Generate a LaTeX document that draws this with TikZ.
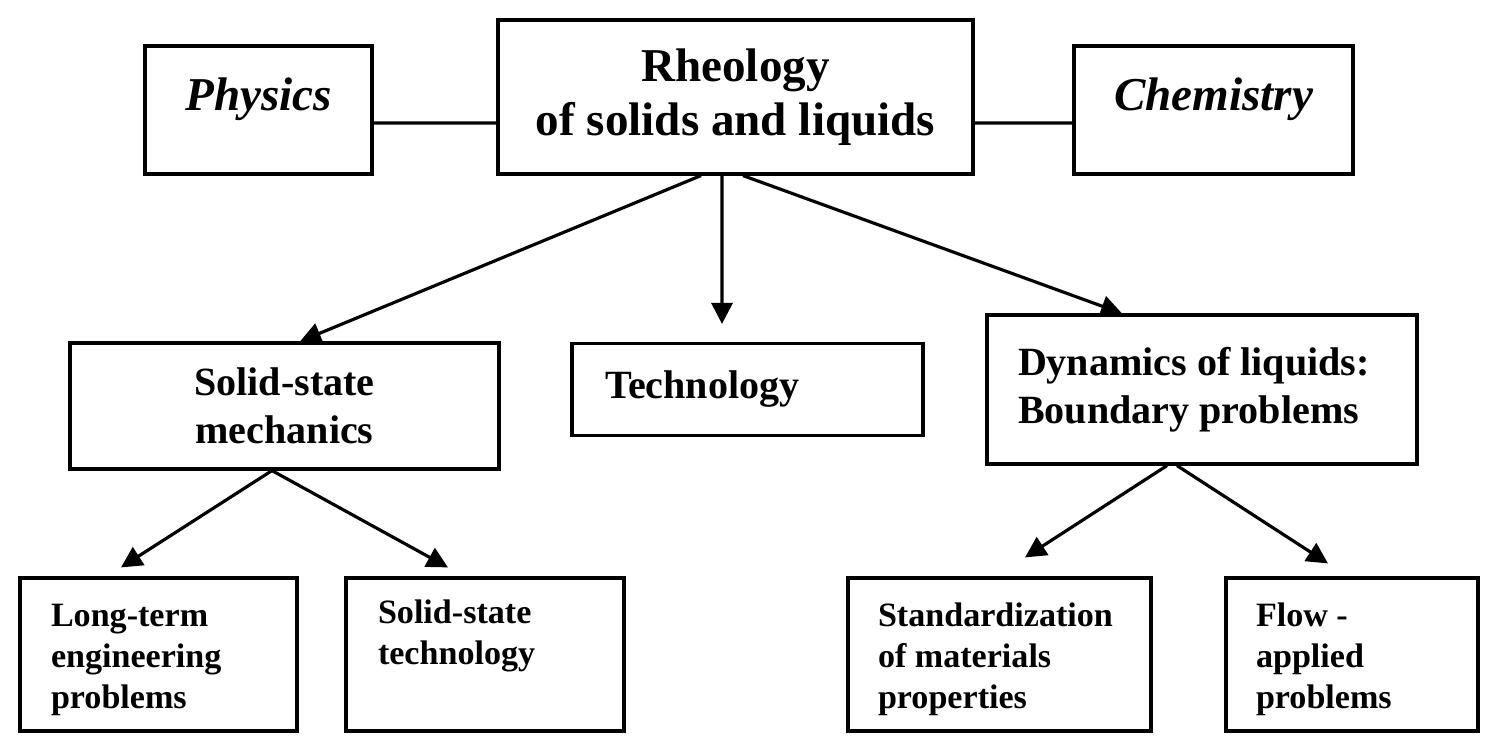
\documentclass[tikz,border=0pt]{standalone}
\usepackage{fontspec}
\setmainfont{Liberation Serif}
\usetikzlibrary{arrows.meta}
\tikzset{
  every picture/.style={line width=0.9pt},
  box/.style={draw, inner sep=0pt, align=center},
  head/.style={font=\fontsize{13.4}{15.5}\selectfont\bfseries},
  mid/.style={font=\fontsize{11.4}{13.8}\selectfont\bfseries},
  leaf/.style={font=\fontsize{9.7}{11.7}\selectfont\bfseries, align=flush left, text height=.33cm, minimum height=1.53cm},
  arrow/.style={-{Triangle[length=2.1mm, width=2.1mm]}},
}

\begin{document}
\begin{tikzpicture}
  \useasboundingbox (0,0) rectangle (15,-7.53);
  % top row
  \node[box, head, minimum width=2.27cm, minimum height=1.28cm, text height=.35cm, text depth=.35cm] (phys) at (2.585,-1.10) {\itshape Physics};
  \node[box, head, minimum width=4.75cm, minimum height=1.54cm] (rheo) at (7.355,-0.97) {Rheology\\of solids and liquids};
  \node[box, head, minimum width=2.79cm, minimum height=1.28cm, text height=.35cm, text depth=.35cm] (chem) at (12.135,-1.10) {\itshape Chemistry};
  \draw ([yshift=-1.3mm]phys.east) -- ([yshift=-2.6mm]rheo.west);
  \draw ([yshift=-2.6mm]rheo.east) -- ([yshift=-1.3mm]chem.west);
  % middle row
  \node[box, mid, minimum width=4.29cm, minimum height=1.26cm] (solid) at (2.845,-4.06) {Solid-state\\mechanics};
  \node[box, mid, align=flush left, text width=2.85cm, minimum width=3.51cm, minimum height=.92cm] (tech) at (7.475,-3.895) {Technology};
  \node[box, mid, align=flush left, text width=3.68cm, minimum width=4.30cm, minimum height=1.49cm] (dyn) at (12.02,-3.895) {Dynamics of liquids:\\Boundary problems};
  \draw[arrow] ([xshift=-3.45mm]rheo.south) -- ([xshift=1.55mm]solid.north);
  \draw[arrow] ([xshift=-1.35mm]rheo.south) -- ([xshift=-2.55mm, yshift=1.8mm]tech.north);
  \draw[arrow] ([xshift=0.75mm]rheo.south) -- ([xshift=-8mm]dyn.north);
  % bottom row
  \node[box, leaf, text width=2.15cm, minimum width=2.77cm] (long) at (1.585,-6.545) {Long-term\\engineering\\problems};
  \node[box, leaf, text width=2.14cm, minimum width=2.78cm] (sst) at (4.85,-6.545) {Solid-state\\technology\\\strut};
  \node[box, leaf, text width=2.43cm, minimum width=3.03cm] (std) at (9.995,-6.545) {Standardization\\of materials\\properties};
  \node[box, leaf, text width=1.92cm, minimum width=2.52cm] (flow) at (13.52,-6.545) {Flow -\\applied\\problems};
  \draw[arrow] ([xshift=-1.25mm]solid.south) -- ([xshift=-3.75mm, yshift=0.9mm]long.north);
  \draw[arrow] ([xshift=-1.25mm]solid.south) -- ([xshift=-3.7mm, yshift=0.9mm]sst.north);
  \draw[arrow] ([xshift=-3.5mm]dyn.south) -- ([xshift=2.55mm, yshift=1.9mm]std.north);
  \draw[arrow] ([xshift=-2.5mm]dyn.south) -- ([xshift=-2.4mm, yshift=1.3mm]flow.north);
\end{tikzpicture}
\end{document}
